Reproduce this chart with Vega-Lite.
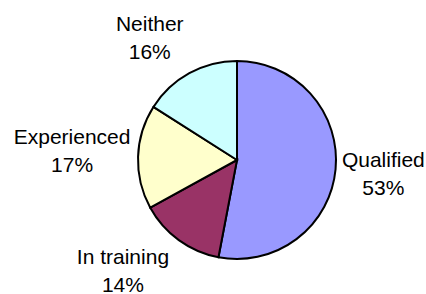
{
  "$schema": "https://vega.github.io/schema/vega-lite/v6.json",
  "autosize": "none",
  "width": 378,
  "height": 268,
  "padding": {"left": 48, "top": 26, "right": 0, "bottom": 0},
  "background": "white",
  "config": {"view": {"stroke": null}},
  "data": {
    "values": [
      {"category": "Qualified", "value": 53, "order": 1},
      {"category": "In training", "value": 14, "order": 2},
      {"category": "Experienced", "value": 17, "order": 3},
      {"category": "Neither", "value": 16, "order": 4}
    ]
  },
  "transform": [
    {"window": [{"op": "sum", "field": "value", "as": "end"}], "sort": [{"field": "order"}], "frame": [null, 0]},
    {"calculate": "datum.end - datum.value", "as": "start"},
    {"calculate": "datum.end - datum.value / 2", "as": "mid"},
    {"calculate": "datum.category + '\\n' + datum.value + '%'", "as": "label"}
  ],
  "encoding": {
    "theta": {"field": "start", "type": "quantitative", "scale": {"domain": [0, 100], "range": [0, 6.283185307179586]}}
  },
  "layer": [
    {
      "mark": {"type": "arc", "outerRadius": 99, "stroke": "black", "strokeWidth": 2},
      "encoding": {
        "theta2": {"field": "end"},
        "color": {
          "field": "category", "type": "nominal", "legend": null,
          "scale": {"domain": ["Qualified", "In training", "Experienced", "Neither"], "range": ["#9999FF", "#993366", "#FFFFCC", "#CCFFFF"]}
        }
      }
    },
    {
      "transform": [{"filter": "datum.category == 'Qualified'"}],
      "mark": {"type": "text", "radius": 147, "dy": -13, "font": "Liberation Sans", "fontSize": 21, "lineBreak": "\n", "lineHeight": 28, "align": "center", "baseline": "middle", "color": "black"},
      "encoding": {"theta": {"field": "mid", "type": "quantitative"}, "text": {"field": "label"}}
    },
    {
      "transform": [{"filter": "datum.category == 'In training'"}],
      "mark": {"type": "text", "radius": 160, "dx": -20, "dy": -31, "font": "Liberation Sans", "fontSize": 21, "lineBreak": "\n", "lineHeight": 28, "align": "center", "baseline": "middle", "color": "black"},
      "encoding": {"theta": {"field": "mid", "type": "quantitative"}, "text": {"field": "label"}}
    },
    {
      "transform": [{"filter": "datum.category == 'Experienced'"}],
      "mark": {"type": "text", "radius": 165, "dy": -17, "font": "Liberation Sans", "fontSize": 21, "lineBreak": "\n", "lineHeight": 28, "align": "center", "baseline": "middle", "color": "black"},
      "encoding": {"theta": {"field": "mid", "type": "quantitative"}, "text": {"field": "label"}}
    },
    {
      "transform": [{"filter": "datum.category == 'Neither'"}],
      "mark": {"type": "text", "radius": 150, "dx": -15, "dy": -4, "font": "Liberation Sans", "fontSize": 21, "lineBreak": "\n", "lineHeight": 28, "align": "center", "baseline": "middle", "color": "black"},
      "encoding": {"theta": {"field": "mid", "type": "quantitative"}, "text": {"field": "label"}}
    }
  ]
}
